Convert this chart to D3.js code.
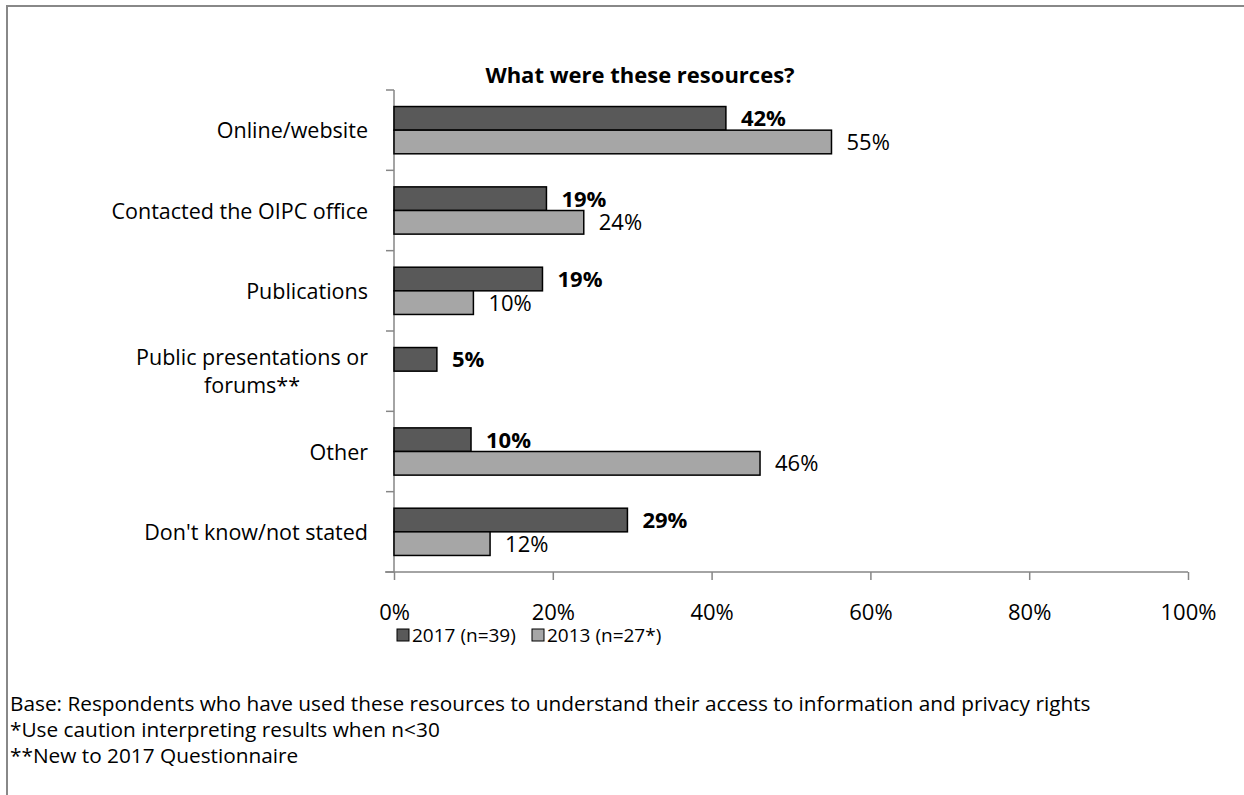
<!DOCTYPE html>
<html>
<head>
<meta charset="utf-8">
<script src="https://cdn.jsdelivr.net/npm/d3@7"></script>
<style>
  body { margin: 0; background: #fff; }
  text { font-family: "Open Sans", sans-serif; fill: #000; }
</style>
</head>
<body>
<div id="chart"></div>
<script>
// Data
const categories = ["Online/website", "Contacted the OIPC office", "Publications",
                    "Public presentations or forums**", "Other", "Don't know/not stated"];
const series = ["2017 (n=39)", "2013 (n=27*)"];
const values2017 = [41.8, 19.2, 18.7, 5.4, 9.7, 29.4];
const values2013 = [55.1, 23.9, 10.0, null, 46.1, 12.1];
const xTicks = [0, 0.2, 0.4, 0.6, 0.8, 1.0];
const footnotes = [
    "Base: Respondents who have used these resources to understand their access to information and privacy rights",
    "*Use caution interpreting results when n<30",
    "**New to 2017 Questionnaire"
];

const W = 1244, H = 795;
const colors = ["#595959", "#a6a6a6"];
const catSize = "21.5px", valSize = "22px";

const svg = d3.select("#chart").append("svg")
    .attr("width", W)
    .attr("height", H);

// outer frame (runs off the right and bottom edges)
svg.append("rect")
    .attr("x", 7).attr("y", 6)
    .attr("width", W + 10).attr("height", H + 10)
    .attr("fill", "none")
    .attr("stroke", "#888")
    .attr("stroke-width", 2);

// Title
svg.append("text")
    .attr("x", 640).attr("y", 83)
    .attr("text-anchor", "middle")
    .style("font-weight", "bold")
    .style("font-size", "22px")
    .text("What were these resources?");

// Scales
const x = d3.scaleLinear().domain([0, 1]).range([394, 1188]);
const y = d3.scaleBand().domain(categories).range([90, 572]).padding(0);
const y1 = d3.scaleBand().domain(series).range([0, y.bandwidth()]).paddingInner(0).paddingOuter(0.7);

// X axis
const xAxis = svg.append("g")
    .attr("transform", "translate(0,572)")
    .call(d3.axisBottom(x).tickValues(xTicks).tickFormat(d3.format(".0%")).tickSize(8).tickPadding(24));
xAxis.select(".domain").remove();
xAxis.selectAll("line").attr("stroke", "#868686").attr("stroke-width", 1.5);
xAxis.selectAll("text").style("font-size", valSize).style("font-family", "'Open Sans', sans-serif");
svg.append("line")
    .attr("x1", 385).attr("x2", x(1))
    .attr("y1", 572).attr("y2", 572)
    .attr("stroke", "#868686").attr("stroke-width", 1.5);

// Y axis line and ticks at category boundaries
svg.append("line")
    .attr("x1", x(0)).attr("x2", x(0))
    .attr("y1", y.range()[0]).attr("y2", y.range()[1])
    .attr("stroke", "#868686").attr("stroke-width", 1.5);
const bounds = categories.map(c => y(c)).concat([y.range()[1]]);
svg.selectAll(".ytick").data(bounds).enter().append("line")
    .attr("x1", x(0) - 8).attr("x2", x(0))
    .attr("y1", d => d).attr("y2", d => d)
    .attr("stroke", "#868686").attr("stroke-width", 1.5);

// Category labels
categories.forEach(c => {
    const cy = y(c) + y.bandwidth() / 2;
    if (c === "Public presentations or forums**") {
        const t1 = svg.append("text")
            .attr("x", 368).attr("y", cy - 6)
            .attr("text-anchor", "end")
            .style("font-size", catSize)
            .text("Public presentations or");
        const w = t1.node().getComputedTextLength();
        svg.append("text")
            .attr("x", 368 - w / 2).attr("y", cy + 22)
            .attr("text-anchor", "middle")
            .style("font-size", catSize)
            .text("forums**");
    } else {
        svg.append("text")
            .attr("x", 368).attr("y", cy + 8)
            .attr("text-anchor", "end")
            .style("font-size", catSize)
            .text(c);
    }
});

// Bars and value labels
const rows = [];
categories.forEach((c, i) => {
    rows.push({ cat: c, s: series[0], v: values2017[i], k: 0 });
    rows.push({ cat: c, s: series[1], v: values2013[i], k: 1 });
});
const drawn = rows.filter(d => d.v !== null);

svg.selectAll(".bar").data(drawn).enter().append("rect")
    .attr("x", x(0))
    .attr("y", d => y(d.cat) + y1(d.s))
    .attr("width", d => x(d.v / 100) - x(0))
    .attr("height", y1.bandwidth())
    .attr("fill", d => colors[d.k])
    .attr("stroke", "#000")
    .attr("stroke-width", 1.5);

svg.selectAll(".val").data(drawn).enter().append("text")
    .attr("x", d => x(d.v / 100) + 15)
    .attr("y", d => y(d.cat) + y1(d.s) + y1.bandwidth() / 2 + 8)
    .style("font-size", valSize)
    .style("font-weight", d => d.k === 0 ? "bold" : "normal")
    .text(d => Math.round(d.v) + "%");

// Legend
const legendX = [397, 532];
series.forEach((s, i) => {
    svg.append("rect")
        .attr("x", legendX[i]).attr("y", 629)
        .attr("width", 12).attr("height", 12)
        .attr("fill", colors[i])
        .attr("stroke", "#000")
        .attr("stroke-width", 1);
    svg.append("text")
        .attr("x", legendX[i] + 15).attr("y", 642)
        .style("font-size", "19px")
        .text(s);
});

// Footnotes
footnotes.forEach((f, i) => {
    svg.append("text")
        .attr("x", 10).attr("y", 711 + i * 26)
        .style("font-size", "20.8px")
        .text(f);
});
</script>
</body>
</html>
